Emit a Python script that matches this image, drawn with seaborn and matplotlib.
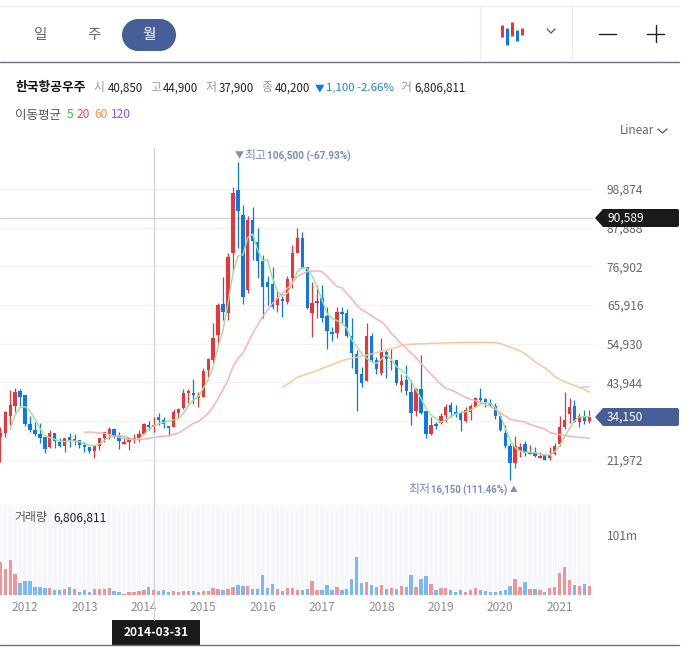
# coding: utf-8

import matplotlib
matplotlib.use('Agg')
import matplotlib.pyplot as plt
from matplotlib.patches import FancyBboxPatch, Polygon
import numpy as np
import pandas as pd
import seaborn as sns

# Data (monthly candles, Aug 2011 - Jul 2021)

opens = [28560, 29700, 34430, 37270, 41430, 40390, 32160, 30460, 29320, 28370,
         25720, 29510, 27050, 26010, 28370, 27330, 27520, 26200, 25530, 24590,
         26010, 28180, 29230, 30740, 28850, 26480, 27140, 27810, 28090, 29320,
         31870, 31210, 34050, 33290, 31590, 31210, 35190, 36610, 41050, 40960,
         39540, 39920, 47490, 50330, 57430, 66230, 63770, 80610, 98590, 91490,
         70200, 90070, 83830, 78530, 72470, 71910, 65940, 67550, 66890, 73510,
         80800, 84870, 76640, 63770, 66610, 67840, 62920, 58280, 57900, 64050,
         63580, 57140, 52030, 46350, 44460, 57140, 50330, 46540, 52700, 49670,
         50330, 43230, 44650, 41340, 35940, 42100, 35850, 29320, 32250, 32350,
         34710, 37550, 35570, 35190, 33110, 35660, 36890, 39450, 39350, 38030,
         37360, 34430, 29510, 25910, 21180, 24490, 26480, 23740, 24300, 22600,
         23260, 22410, 23640, 26480, 31210, 35000, 37270, 32820, 34430, 32920]
highs = [31210, 35850, 41810, 42280, 42000, 40390, 34430, 32820, 32350, 28560,
         30460, 29510, 28090, 28090, 29510, 29320, 27620, 27140, 25720, 26200,
         28090, 29980, 31400, 31120, 29980, 28560, 28280, 29230, 30460, 32540,
         33010, 34050, 35190, 34050, 31590, 36420, 36610, 42090, 42090, 45030,
         41340, 47960, 50800, 60740, 66420, 73990, 80610, 99540, 106500, 94330,
         91210, 93860, 87710, 80140, 74180, 76640, 70200, 69070, 74180, 82980,
         87710, 86760, 76640, 72570, 71620, 71620, 65250, 59790, 65280, 65470,
         64710, 62160, 53170, 48250, 60740, 58090, 51280, 56480, 53170, 53360,
         50330, 46350, 48910, 44650, 42280, 51750, 35940, 34240, 32820, 35190,
         37840, 38500, 37550, 35940, 36890, 37840, 39450, 42280, 39450, 39160,
         38030, 35000, 31880, 26860, 28750, 26670, 27430, 26100, 25530, 24300,
         23360, 25530, 26860, 34430, 41150, 39450, 38970, 35190, 36130, 36130]
lows = [21280, 28560, 31880, 35660, 37270, 31590, 29980, 28850, 26860, 23830,
        25440, 25440, 25720, 24300, 25720, 26200, 25250, 24300, 23830, 22410,
        24780, 27140, 27810, 28090, 25060, 26480, 24780, 26860, 27140, 29230,
        30460, 29980, 31870, 30930, 28750, 31210, 33960, 36420, 38030, 37840,
        37080, 39730, 45600, 49380, 54110, 61690, 61690, 75410, 82030, 66230,
        69260, 78720, 73510, 62350, 65940, 64710, 64050, 62630, 66230, 70680,
        80610, 76350, 64710, 56760, 62160, 61210, 53360, 55820, 56480, 60740,
        56760, 47960, 35950, 42570, 44460, 49860, 46350, 46070, 45320, 47490,
        43230, 41340, 40390, 31880, 34520, 34900, 28090, 29040, 30740, 32160,
        32820, 34240, 34240, 30270, 32820, 33290, 36890, 38220, 36890, 37270,
        33580, 30270, 25250, 16150, 19760, 22890, 23070, 23640, 22700, 22410,
        21940, 21940, 23360, 25910, 30640, 32350, 32820, 31400, 32160, 32540]
closes = [29700, 35470, 37550, 41240, 39820, 32160, 30460, 29320, 28180, 25060,
          29510, 27330, 25910, 28090, 27430, 27900, 26200, 25720, 24490, 25910,
          28090, 29790, 30650, 28850, 27430, 27050, 28280, 28280, 29320, 32160,
          31310, 31870, 33290, 32160, 31120, 35570, 36320, 40860, 41620, 40390,
          40110, 47210, 50610, 56670, 65940, 64050, 79660, 97830, 92720, 68310,
          90070, 84210, 78530, 71150, 71150, 65470, 67840, 67080, 73230, 80610,
          84870, 76350, 65190, 66420, 67080, 62350, 58660, 57710, 63860, 63390,
          57140, 52220, 46350, 43890, 57140, 50330, 47770, 52700, 50610, 50140,
          43710, 44370, 41530, 35380, 42100, 35380, 29320, 31880, 31690, 34430,
          36890, 35660, 35000, 33290, 36130, 37360, 39450, 38880, 38030, 37550,
          34430, 30460, 25910, 21180, 25910, 25720, 24020, 24120, 22980, 23170,
          22030, 23360, 25910, 31210, 33290, 36890, 32820, 34430, 33110, 34150]

# traded volume in millions of shares
volumes = [55.0, 43.2, 58.3, 34.8, 19.6, 23.6, 23.6, 14.0, 12.9, 11.2,
           11.2, 8.4, 8.4, 9.5, 12.9, 9.5, 4.5, 8.4, 5.0, 9.5,
           9.5, 9.5, 11.2, 6.2, 5.0, 2.2, 4.5, 4.5, 6.7, 8.4,
           12.9, 8.4, 6.2, 7.9, 4.5, 6.2, 5.0, 6.2, 6.2, 6.2,
           4.5, 6.2, 6.2, 11.2, 9.5, 7.9, 10.1, 12.9, 16.3, 14.6,
           14.6, 9.5, 9.5, 33.1, 11.2, 18.0, 9.5, 6.2, 11.2, 11.2,
           7.9, 7.9, 9.5, 23.0, 7.9, 7.9, 16.3, 7.9, 12.9, 7.9,
           9.5, 26.4, 64.5, 19.6, 21.3, 16.3, 12.9, 16.3, 9.5, 11.2,
           9.5, 14.6, 12.9, 33.1, 12.9, 26.4, 31.4, 18.0, 7.9, 11.2,
           11.2, 7.9, 4.5, 7.9, 4.5, 7.9, 11.2, 7.9, 6.2, 4.5,
           4.5, 6.2, 7.9, 14.6, 26.4, 12.9, 21.3, 9.5, 9.5, 7.9,
           4.5, 11.2, 12.9, 36.5, 46.6, 24.7, 16.3, 14.6, 18.0, 14.6]

ma5 = [30650, 34710, 36890, 37080, 35850, 33480, 30930, 28850, 28280, 27810,
       27330, 27140, 27430, 27330, 27140, 26480, 26100, 26010, 26480, 27430,
       28470, 28660, 28850, 28660, 28280, 27810, 27810, 29130, 30650, 31590,
       32350, 32630, 33010, 33290, 33670, 35190, 37360, 38970, 39920, 42290,
       44650, 48440, 54110, 58850, 66420, 74930, 79850, 80140, 85150, 86100,
       81560, 78530, 78720, 73510, 69730, 68500, 69260, 72090, 75410, 76540,
       76350, 74180, 71150, 67360, 63580, 62160, 61500, 60740, 59320, 56010,
       54110, 52220, 50800, 49850, 49380, 50520, 51750, 50520, 48440, 47490,
       46260, 44180, 41810, 39450, 36610, 34710, 33770, 32630, 33290, 34240,
       35000, 35380, 35660, 36130, 36890, 37840, 38220, 38030, 36890, 34710,
       30930, 27620, 25530, 24490, 24120, 24120, 24020, 23640, 23360, 23360,
       24300, 25910, 28560, 30930, 33010, 34240, 34240, 34240]
ma20 = [29790, 29890, 29790, 29600, 29510, 29130, 28660, 28370, 28090, 27810,
        27710, 27710, 27900, 28090, 28280, 28560, 28660, 28850, 29230, 29600,
        30460, 31400, 32350, 32820, 33960, 35190, 37080, 39450, 42000, 44650,
        48440, 50800, 52220, 55060, 57900, 60270, 62630, 64520, 66420, 67840,
        69260, 70680, 72280, 73990, 74740, 75410, 75600, 75600, 75410, 74180,
        72570, 71150, 70860, 69260, 67650, 65940, 64520, 63860, 62920, 61880,
        61210, 59790, 57900, 56480, 54870, 53640, 52220, 50990, 49380, 47770,
        46350, 44840, 43420, 42280, 41810, 41240, 40390, 39730, 39160, 38780,
        38310, 37650, 37080, 36320, 35380, 34430, 33580, 33200, 32920, 32730,
        32060, 31590, 31210, 30740, 29790, 29410, 29130, 28940, 28660, 28560,
        28370, 28280, 28090]
ma60 = [42570, 43420, 44370, 45410, 45880, 46350, 46830, 47300, 47960, 48440,
        48910, 49570, 50140, 50520, 50800, 51090, 51460, 51750, 52030, 52410,
        52790, 53170, 53550, 53930, 54400, 54680, 54780, 54870, 54960, 54960,
        55060, 55060, 55150, 55150, 55250, 55250, 55250, 55340, 55340, 55340,
        55340, 55340, 55340, 55250, 54960, 54490, 53920, 53450, 52880, 52130,
        51080, 49850, 48910, 48150, 46920, 45600, 44840, 44180, 43610, 43140,
        42570, 42000, 41150]
ma120 = [42470, 42660, 42760]

year_labels = ['2012', '2013', '2014', '2015', '2016', '2017', '2018', '2019', '2020', '2021']
year_months = [5, 17, 29, 41, 53, 65, 77, 89, 101, 113]
price_ticks = [98874, 87888, 76902, 65916, 54930, 43944, 32958, 21972]
price_tick_labels = ['98,874', '87,888', '76,902', '65,916', '54,930', '43,944', '', '21,972']
cross_month = 31
cross_price = 90589

RED, BLUE = '#ec3338', '#0d78ee'
VOL_RED, VOL_BLUE = '#f29398', '#7cb7f8'
GRID = '#f2f3f6'
FONT = ['Noto Sans CJK KR', 'DejaVu Sans']

# Setup

sns.set_theme(style='white')
plt.rcParams['font.family'] = FONT
plt.rcParams['axes.unicode_minus'] = False

W, H = 687, 653
fig = plt.figure(figsize=(W / 100, H / 100), dpi=100, facecolor='white')


def px_axes(left, top, right, bottom):
    return fig.add_axes([left / W, 1 - bottom / H, (right - left) / W, (bottom - top) / H])


df = pd.DataFrame({'month': np.arange(len(closes)), 'open': opens, 'high': highs, 'low': lows,
                   'close': closes, 'volume': volumes})
df['dir'] = np.where(df['close'] >= df['open'], 'up', 'down')

# Price panel

ax = px_axes(0, 148, 593, 500)
ax.set_xlim(-0.06, 119.74)
ax.set_ylim(10580, 110510)
ax.set_yticks(price_ticks)
ax.set_yticklabels(price_tick_labels)
ax.yaxis.tick_right()
ax.tick_params(axis='y', length=0, pad=10, labelsize=8.6, labelcolor='#666666')
ax.set_xticks([])
ax.grid(axis='y', color=GRID, lw=1)
ax.set_axisbelow(True)
sns.despine(ax=ax, left=True, bottom=True, right=True, top=True)

ax.axhline(cross_price, color='#cfd5de', lw=1, zorder=1)
ax.axvline(cross_month, color='#cdd5e3', lw=1, zorder=1)

colors = df['dir'].map({'up': RED, 'down': BLUE})
ax.vlines(df['month'], df['low'], df['high'], colors=colors, lw=0.9, zorder=2)
ax.bar(df['month'], (df['close'] - df['open']).abs().clip(lower=400),
       bottom=df[['open', 'close']].min(axis=1), width=0.68, color=colors, edgecolor='none', linewidth=0, zorder=3)

for values, color in [(ma5, '#9be39a'), (ma20, '#fbb0b0'), (ma60, '#f9c694'), (ma120, '#d6c3f5')]:
    months = df['month'].iloc[-len(values):].values
    sns.lineplot(x=months, y=values, color=color, lw=1.05, ax=ax, zorder=4, errorbar=None)

ax.set_xlabel('')
ax.set_ylabel('')

# Volume panel

vx = px_axes(0, 505, 593, 595)
vx.set_xlim(-0.06, 119.74)
vx.set_ylim(0, 151.5)
vx.bar(df['month'], 151.5, width=0.8, color='#f5f7fc', edgecolor='none', linewidth=0, zorder=0)
vx.axvline(cross_month, color='#cdd5e3', lw=1, zorder=1)
sns.barplot(data=df, x='month', y='volume', hue='dir', palette={'up': VOL_RED, 'down': VOL_BLUE},
            native_scale=True, dodge=False, width=0.68, saturation=1, edgecolor='none', linewidth=0,
            legend=False, ax=vx, zorder=3)
vx.set_xlim(-0.06, 119.74)
vx.set_xticks(year_months)
vx.set_xticklabels(year_labels)
vx.set_yticks([101])
vx.set_yticklabels(['101m'])
vx.yaxis.tick_right()
vx.tick_params(axis='y', length=0, pad=10, labelsize=8.6, labelcolor='#666666')
vx.tick_params(axis='x', length=0, pad=4, labelsize=8.6, labelcolor='#8c8c8c')
vx.set_xlabel('')
vx.set_ylabel('')
sns.despine(ax=vx, left=True, bottom=True, right=True, top=True)

# Page furniture in pixel coordinates

ui = fig.add_axes([0, 0, 1, 1], zorder=5)
ui.set_xlim(0, W)
ui.set_ylim(H, 0)
ui.axis('off')
ui.patch.set_alpha(0)


def label(x, y, s, color='#222222', size=8.6, weight='normal', ha='left', family=FONT):
    ui.text(x, y, s, color=color, fontsize=size, fontweight=weight, ha=ha, va='center', family=family)


ui.plot([0, 679], [5.5, 5.5], color='#eeeeee', lw=1)
ui.plot([0, 679], [61.5, 61.5], color='#6c7280', lw=1)
ui.plot([0, 679], [644.5, 644.5], color='#6c7280', lw=1)
ui.plot([479.5, 479.5], [6, 61], color='#eeeeee', lw=1)
ui.plot([571.5, 571.5], [6, 61], color='#eeeeee', lw=1)

ui.add_patch(plt.Rectangle((138, 19), 22, 32, fc='#475f99', ec='none'))
ui.add_patch(plt.Circle((138, 35), 16, fc='#475f99', ec='none'))
ui.add_patch(plt.Circle((160, 35), 16, fc='#475f99', ec='none'))
label(41, 35, '일', '#666666', 10.5, ha='center')
label(94, 35, '주', '#666666', 10.5, ha='center')
label(149, 35, '월', 'white', 10.5, ha='center')

# chart type icon
for x, y0, y1, c in [(501.5, 25, 37, RED), (506.5, 28, 45, BLUE), (511.5, 22, 36, RED),
                     (516.5, 30, 41, BLUE), (521.5, 28, 35, RED)]:
    ui.plot([x, x], [y0, y1], color=c, lw=2.16, solid_capstyle='butt')
ui.plot([547, 551, 555], [29, 33, 29], color='#555555', lw=0.9)
ui.plot([599, 616], [33.5, 33.5], color='#222222', lw=1)
ui.plot([647, 664], [33.5, 33.5], color='#222222', lw=1)
ui.plot([655.5, 655.5], [25, 42], color='#222222', lw=1)

# quote row
label(15, 88, '한국항공우주', '#111111', 9.2, 'bold')
for x, name, vx_text, value in [(94, '시', 108, '40,850'), (150, '고', 163, '44,900'),
                                (206, '저', 219, '37,900'), (261, '종', 275, '40,200')]:
    label(x, 88, name, '#999999')
    label(vx_text, 88, value, '#222222', 8.3)
label(315, 88, '▼', BLUE, 7)
label(326, 88, '1,100 -2.66%', '#1e80f0', 8.2)
label(400, 88, '거', '#999999')
label(414, 88, '6,806,811', '#222222', 8.3)

label(15, 115, '이동평균', '#555555', 9)
label(67, 115, '5', '#1fc93a')
label(77, 115, '20', '#f5405e')
label(94, 115, '60', '#ff8c42')
label(111, 115, '120', '#8a4dff')
label(620, 130, 'Linear', '#666666', 8.4)
ui.plot([658, 662.5, 667], [129, 133, 129], color='#555555', lw=0.9)

# high / low notes
NOTE = '#7a8cbf'
label(235, 156, '▼', NOTE, 6.5)
label(244, 156, '최고', NOTE)
label(267, 156, '106,500 (-67.93%)', NOTE, 7.2, 'bold', family=['Roboto', 'DejaVu Sans'])
label(408, 490, '최저', NOTE)
label(431, 490, '16,150 (111.46%)', NOTE, 6.9, 'bold', family=['Roboto', 'DejaVu Sans'])
label(510, 490, '▲', NOTE, 5.5)

label(14, 518, '거래량', '#555555')
label(53, 518, '6,806,811', '#222222', 8.6, 'medium')

# crosshair between the panels and the date tag
ui.plot([154, 154], [500, 505], color='#cdd5e3', lw=1)
ui.plot([154, 154], [595, 620], color='#cdd5e3', lw=1)
ui.add_patch(plt.Rectangle((112, 620), 88, 25, fc='#1a1a1a', ec='none'))
label(156, 632.5, '2014-03-31', 'white', 8.6, 'bold', ha='center')

# price tags
for cy, face, text in [(218, '#1a1a1a', '90,589'), (417, '#475f99', '34,150')]:
    ui.add_patch(Polygon([(595, cy), (603, cy - 9), (603, cy + 9)], closed=True, fc=face, ec='none'))
    ui.add_patch(FancyBboxPatch((602, cy - 9), 77, 18, boxstyle='round,pad=0,rounding_size=2',
                                fc=face, ec='none'))
    label(607, cy, text, 'white', 8.6, 'medium')

fig.savefig('out.png', dpi=100)
